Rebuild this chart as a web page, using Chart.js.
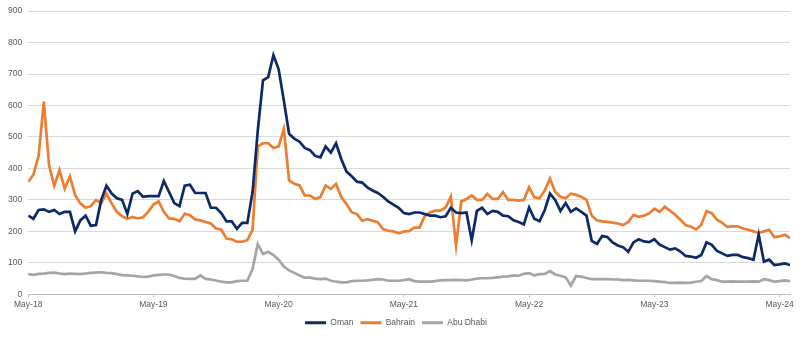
<!DOCTYPE html>
<html>
<head>
<meta charset="utf-8">
<script src="https://cdn.jsdelivr.net/npm/chart.js@4/dist/chart.umd.min.js"></script>
<style>
  html, body { margin: 0; padding: 0; background: #ffffff; }
  #wrap { width: 800px; height: 337px; position: relative; }
</style>
</head>
<body>
<div id="wrap"><canvas id="c" width="800" height="337"></canvas></div>
<script>
// Half-monthly observations, starting May-2018 (x = months since May-18)
const startMonth = 0, stepMonths = 0.5, nPoints = 147;
const months = [];
for (let i = 0; i < nPoints; i++) months.push(startMonth + i * stepMonths);

const tickMonths = [0, 12, 24, 36, 48, 60, 72];
const tickLabels = ['May-18', 'May-19', 'May-20', 'May-21', 'May-22', 'May-23', 'May-24'];

const oman = [
  250,240,268,270,262,268,255,262,262,200,235,250,218,220,300,345,320,305,300,255,
  320,328,310,312,312,312,360,325,290,280,345,348,322,322,322,275,275,258,232,232,
  208,227,227,325,520,680,690,760,715,615,510,495,485,465,458,440,435,470,450,480,
  430,390,375,358,355,340,330,322,310,295,285,275,258,255,260,260,255,250,250,245,
  248,275,260,258,260,172,265,275,255,265,262,250,248,235,230,222,276,240,232,268,
  320,300,265,290,262,273,262,250,170,160,185,182,165,155,150,135,165,175,168,166,
  175,158,150,142,146,136,122,120,116,125,165,157,138,130,122,125,125,118,115,110,
  190,104,110,93,95,98,93
];
const bahrain = [
  358,380,440,612,410,345,395,336,375,315,289,275,280,300,290,320,289,262,248,240,
  246,241,245,262,285,295,262,241,240,232,256,251,238,235,230,225,209,205,177,175,
  167,167,172,205,470,480,480,465,470,525,362,351,346,314,314,303,309,346,335,351,
  309,287,261,255,234,239,234,229,207,202,200,194,200,201,212,212,249,260,266,266,
  276,310,155,295,303,314,300,300,319,303,303,325,300,300,298,300,340,308,305,330,
  368,325,310,305,320,316,310,300,250,235,232,230,228,225,220,230,252,246,250,257,
  272,262,278,266,253,237,220,215,206,221,264,258,237,227,214,216,216,209,205,200,
  195,200,205,182,184,189,179
];
const abuDhabi = [
  64,62,65,66,68,69,66,64,66,65,64,66,68,69,70,68,67,64,61,60,
  59,57,55,56,60,62,63,63,58,52,50,49,49,60,49,47,44,40,38,38,
  42,43,43,80,160,128,135,125,110,88,76,68,60,53,53,50,48,50,43,40,
  38,38,42,43,43,44,46,48,47,43,43,43,45,48,42,40,40,40,42,44,
  45,45,46,45,44,47,50,51,51,52,54,56,57,60,59,65,67,60,64,65,
  74,63,59,54,28,58,56,52,48,48,48,48,47,47,45,46,44,43,43,43,
  42,40,39,36,36,37,36,37,40,42,58,48,45,40,40,41,40,40,40,41,
  40,48,45,40,42,44,42
];

const seriesNames = ['Oman', 'Bahrain', 'Abu Dhabi'];
const seriesColors = ['#0c2a68', '#ed7d31', '#a5a5a5'];
const seriesValues = [oman, bahrain, abuDhabi];

const datasets = seriesNames.map((name, k) => ({
  label: name,
  data: seriesValues[k].map((v, i) => ({ x: months[i], y: v })),
  borderColor: seriesColors[k],
  backgroundColor: seriesColors[k],
  borderWidth: 2.7,
  pointRadius: 0,
  tension: 0,
  fill: false
}));

const FONT = 'Liberation Sans, Arial, sans-serif';

new Chart(document.getElementById('c'), {
  type: 'line',
  data: { datasets },
  options: {
    responsive: false,
    animation: false,
    devicePixelRatio: 1,
    layout: { padding: { left: 2, right: 10, top: 6, bottom: 0 } },
    plugins: {
      legend: {
        position: 'bottom',
        labels: {
          boxWidth: 21,
          boxHeight: 3,
          padding: 7,
          color: '#595959',
          font: { family: FONT, size: 8.5 },
          generateLabels: (chart) => Chart.defaults.plugins.legend.labels.generateLabels(chart)
            .map(l => Object.assign(l, { lineWidth: 0 }))
        }
      },
      tooltip: { enabled: false }
    },
    scales: {
      x: {
        type: 'linear',
        min: 0,
        max: 73,
        afterBuildTicks: (scale) => { scale.ticks = tickMonths.map(v => ({ value: v })); },
        ticks: {
          autoSkip: false,
          maxRotation: 0,
          padding: 2,
          color: '#595959',
          font: { family: FONT, size: 8.5 },
          callback: (v) => { const i = tickMonths.indexOf(v); return i >= 0 ? tickLabels[i] : ''; }
        },
        grid: { display: true, drawOnChartArea: false, drawTicks: true, tickLength: 3, color: '#bfbfbf' },
        border: { display: true, color: '#bfbfbf', width: 1 }
      },
      y: {
        min: 0,
        max: 900,
        ticks: {
          stepSize: 100,
          padding: 6,
          color: '#595959',
          font: { family: FONT, size: 8.5 }
        },
        grid: { color: '#d9d9d9', drawTicks: false, lineWidth: 1 },
        border: { display: false }
      }
    }
  }
});
</script>
</body>
</html>
